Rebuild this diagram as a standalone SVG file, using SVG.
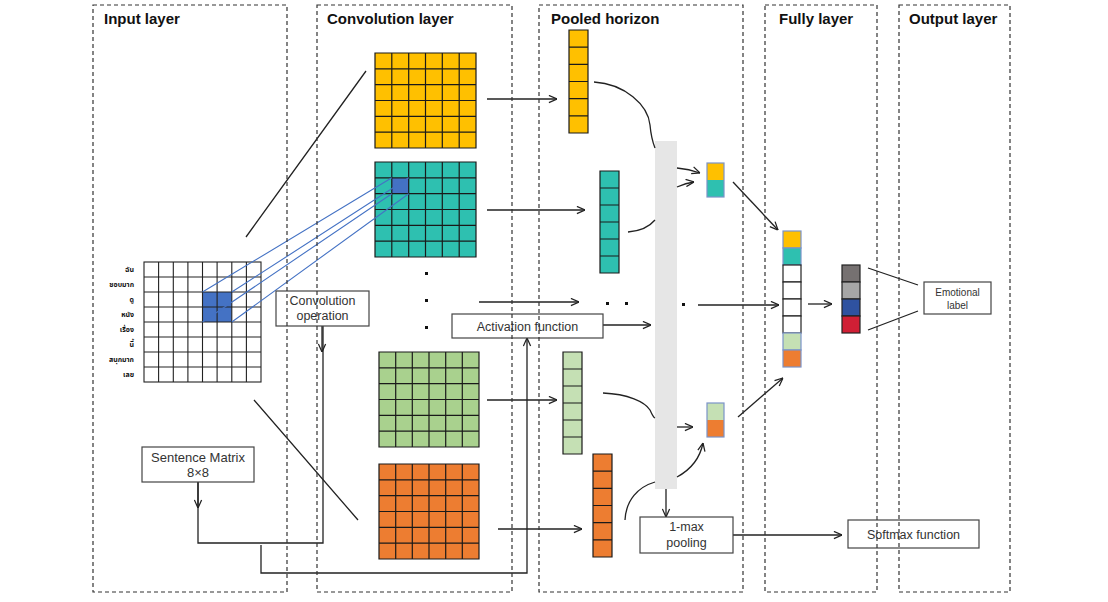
<svg xmlns="http://www.w3.org/2000/svg" width="1108" height="602" viewBox="0 0 1108 602">
<defs>
<style>
.panel{fill:none;stroke:#333;stroke-width:1.2;stroke-dasharray:4 3}
.title{font-family:"Liberation Sans",Arial,sans-serif;font-weight:bold;font-size:15px;fill:#111}
.box{fill:#fff;stroke:#444;stroke-width:1.2}
.lbl{font-family:"Liberation Sans",Arial,sans-serif;font-size:12.5px;fill:#333;text-anchor:middle}
.conn{fill:none;stroke:#222;stroke-width:1.3}
.arr{fill:none;stroke:#222;stroke-width:1.3;marker-end:url(#ah)}
.blue{fill:none;stroke:#4472C4;stroke-width:1.1}
.grid{fill:none;stroke:#1a1a1a;stroke-width:1.2}
.igrid{fill:none;stroke:#222;stroke-width:1.1}
.word{font-family:"Noto Sans Thai","DejaVu Sans",sans-serif;font-size:7px;font-weight:bold;fill:#111;text-anchor:end}
.vb{stroke:#7b93c9;stroke-width:1.2}
.vk{stroke:#222;stroke-width:1.2}
</style>
<marker id="ah" viewBox="0 0 10 10" refX="10" refY="5" markerWidth="9" markerHeight="9" orient="auto" markerUnits="userSpaceOnUse">
<path d="M1,1 L10,5 L1,9" fill="none" stroke="#222" stroke-width="1.4"/>
</marker>
</defs>

<!-- Input matrix -->
<g id="input-matrix">
<rect x="202.5" y="292" width="29.3" height="30" fill="#4472C4"/>
<rect x="144" y="262" width="117" height="120" class="igrid"/>
<path class="igrid" d="M158.6,262V382M173.3,262V382M187.9,262V382M202.5,262V382M217.1,262V382M231.8,262V382M246.4,262V382M144,277H261M144,292H261M144,307H261M144,322H261M144,337H261M144,352H261M144,367H261"/>
<text class="word" x="134" y="271.5">ฉัน</text>
<text class="word" x="134" y="286.5">ชอบมาก</text>
<text class="word" x="134" y="301.5">ดู</text>
<text class="word" x="134" y="316.5">หนัง</text>
<text class="word" x="134" y="331.5">เรื่อง</text>
<text class="word" x="134" y="346.5">นี้</text>
<text class="word" x="134" y="361.5">สนุกมาก</text>
<text class="word" x="134" y="376.5">เลย</text>
</g>

<!-- Convolution feature maps -->
<g id="conv-yellow">
<rect x="375" y="53" width="101" height="95" fill="#FFC000"/>
<path class="grid" d="M375,53H476V148H375ZM391.8,53V148M408.7,53V148M425.5,53V148M442.3,53V148M459.2,53V148M375,68.8H476M375,84.7H476M375,100.5H476M375,116.3H476M375,132.2H476"/>
</g>
<g id="conv-teal">
<rect x="375" y="162" width="101" height="95" fill="#2EC0B0"/>
<rect x="391.8" y="177.8" width="16.9" height="15.9" fill="#4472C4"/>
<path class="grid" d="M375,162H476V257H375ZM391.8,162V257M408.7,162V257M425.5,162V257M442.3,162V257M459.2,162V257M375,177.8H476M375,193.7H476M375,209.5H476M375,225.3H476M375,241.2H476"/>
</g>
<g id="conv-dots" fill="#111">
<rect x="425" y="272" width="3" height="3"/>
<rect x="425" y="299" width="3" height="3"/>
<rect x="425" y="326" width="3" height="3"/>
</g>
<g id="conv-green">
<rect x="379" y="352" width="100" height="95" fill="#A9D18E"/>
<path class="grid" d="M379,352H479V447H379ZM395.7,352V447M412.3,352V447M429,352V447M445.7,352V447M462.3,352V447M379,367.8H479M379,383.7H479M379,399.5H479M379,415.3H479M379,431.2H479"/>
</g>
<g id="conv-orange">
<rect x="379" y="464" width="100" height="95" fill="#ED7D31"/>
<path class="grid" d="M379,464H479V559H379ZM395.7,464V559M412.3,464V559M429,464V559M445.7,464V559M462.3,464V559M379,479.8H479M379,495.7H479M379,511.5H479M379,527.3H479M379,543.2H479"/>
</g>

<!-- Pooled vectors -->
<g id="pool-yellow">
<rect x="569" y="30" width="19" height="103" fill="#FFC000"/>
<path class="grid" d="M569,30H588V133H569ZM569,47.2H588M569,64.3H588M569,81.5H588M569,98.7H588M569,115.8H588"/>
</g>
<g id="pool-teal">
<rect x="600" y="171" width="19" height="102" fill="#2EC0B0"/>
<path class="grid" d="M600,171H619V273H600ZM600,188H619M600,205H619M600,222H619M600,239H619M600,256H619"/>
</g>
<g id="pool-green">
<rect x="563" y="352" width="19" height="102" fill="#C5E0B4"/>
<path class="grid" d="M563,352H582V454H563ZM563,369H582M563,386H582M563,403H582M563,420H582M563,437H582"/>
</g>
<g id="pool-orange">
<rect x="593" y="454" width="19" height="103" fill="#ED7D31"/>
<path class="grid" d="M593,454H612V557H593ZM593,471.2H612M593,488.3H612M593,505.5H612M593,522.7H612M593,539.8H612"/>
</g>
<g id="pool-dots" fill="#111">
<rect x="606" y="302" width="3" height="3"/>
<rect x="625" y="302" width="3" height="3"/>
<rect x="682" y="303" width="3" height="3"/>
</g>
<g id="activation-bar">
<rect x="655" y="141" width="22" height="348" fill="#E6E6E6"/>
</g>
<g id="pair-top">
<rect x="707" y="163" width="17" height="17" fill="#FFC000"/>
<rect x="707" y="180" width="17" height="17" fill="#2EC0B0"/>
<rect x="707" y="163" width="17" height="34" fill="none" class="vb"/>
</g>
<g id="pair-bottom">
<rect x="707" y="403" width="17" height="17" fill="#C5E0B4"/>
<rect x="707" y="420" width="17" height="17" fill="#ED7D31"/>
<rect x="707" y="403" width="17" height="34" fill="none" class="vb"/>
</g>

<!-- Fully connected vector -->
<g id="fully-vector">
<rect x="783" y="231" width="18" height="17" fill="#FFC000" class="vb"/>
<rect x="783" y="248" width="18" height="17" fill="#2EC0B0" class="vb"/>
<rect x="783" y="265" width="18" height="17" fill="#fff" class="vk"/>
<rect x="783" y="282" width="18" height="17" fill="#fff" class="vk"/>
<rect x="783" y="299" width="18" height="17" fill="#fff" class="vk"/>
<rect x="783" y="316" width="18" height="17" fill="#fff" class="vk"/>
<rect x="783" y="333" width="18" height="17" fill="#C5E0B4" class="vb"/>
<rect x="783" y="350" width="18" height="17" fill="#ED7D31" class="vb"/>
</g>
<g id="output-vector">
<rect x="842" y="265" width="18" height="17" fill="#767171" class="vk"/>
<rect x="842" y="282" width="18" height="17" fill="#A6A6A6" class="vk"/>
<rect x="842" y="299" width="18" height="17" fill="#2F52A0" class="vk"/>
<rect x="842" y="316" width="18" height="17" fill="#D01F35" class="vk"/>
</g>

<!-- Connectors -->
<g id="connectors">
<path class="blue" d="M202.5,292L391.8,177.8M231.8,292L408.7,177.8M202.5,322L391.8,193.7M231.8,322L408.7,193.7"/>
<path class="conn" d="M246,237L366,71M254,400L358,520"/>
<path class="arr" d="M487,99H557"/>
<path class="arr" d="M487,210H585"/>
<path class="arr" d="M487,400H557"/>
<path class="arr" d="M498,529H582"/>
<path class="arr" d="M479,302H579"/>
<path class="arr" d="M603,325H651"/>
<path class="arr" d="M698,305H779"/>
<path class="arr" d="M808,304H832"/>
<path class="conn" d="M594,82C625,84 648,105 650,125C651,136 653,143 655,148"/>
<path class="conn" d="M628,232C641,231 650,226 655,220"/>
<path class="conn" d="M603,393C628,394 645,402 650,410C652,414 653,417 655,418"/>
<path class="conn" d="M625,520C626,500 638,487 655,482"/>
<path class="arr" d="M677,168Q689,169 700,173"/>
<path class="arr" d="M677,187Q686,183 694,182"/>
<path class="arr" d="M677,427H693"/>
<path class="arr" d="M677,477C690,470 700,458 703,443"/>
<path class="arr" d="M733,182L778,230"/>
<path class="arr" d="M738,417L783,378"/>
<path class="conn" d="M868,268L918,285M868,330L918,311"/>
<path class="arr" d="M666,489V517"/>
<path class="arr" d="M733,535H842"/>
<path class="conn" d="M198,482V543H323V326"/>
<path class="arr" d="M198,482V508"/>
<path class="arr" d="M322,326V352"/>
<path class="arr" d="M261,545V573H527V338"/>
</g>

<!-- Text boxes -->
<g id="conv-op">
<rect class="box" x="276" y="291" width="93" height="35"/>
<text class="lbl" x="322.5" y="305">Convolution</text>
<text class="lbl" x="322.5" y="320">operation</text>
</g>
<g id="sentence-matrix">
<rect class="box" x="142" y="447" width="112" height="35"/>
<text class="lbl" x="198" y="461.5" style="font-size:13px">Sentence Matrix</text>
<text class="lbl" x="198" y="476.5" style="font-size:13px">8×8</text>
</g>
<g id="activation-function">
<rect class="box" x="452" y="314" width="151" height="24"/>
<text class="lbl" x="527.5" y="330.5">Activation function</text>
</g>
<g id="max-pooling">
<rect class="box" x="640" y="517" width="93" height="36"/>
<text class="lbl" x="686.5" y="531">1-max</text>
<text class="lbl" x="686.5" y="547">pooling</text>
</g>
<g id="softmax">
<rect class="box" x="848" y="520" width="131" height="28"/>
<text class="lbl" x="913.5" y="538.5">Softmax function</text>
</g>
<g id="emotional-label">
<rect class="box" x="924" y="282" width="67" height="32"/>
<text class="lbl" x="957.5" y="296" style="font-size:10px">Emotional</text>
<text class="lbl" x="957.5" y="309" style="font-size:10px">label</text>
</g>

<!-- Layer panels -->
<g id="panels">
<rect class="panel" x="93" y="5" width="194" height="587"/>
<rect class="panel" x="317" y="5" width="195" height="587"/>
<rect class="panel" x="539" y="5" width="204" height="587"/>
<rect class="panel" x="765" y="5" width="112" height="587"/>
<rect class="panel" x="899" y="5" width="111" height="587"/>
<text class="title" x="104" y="24">Input layer</text>
<text class="title" x="327" y="24">Convolution layer</text>
<text class="title" x="551" y="24">Pooled horizon</text>
<text class="title" x="779" y="24">Fully layer</text>
<text class="title" x="909" y="24">Output layer</text>
</g>
</svg>
